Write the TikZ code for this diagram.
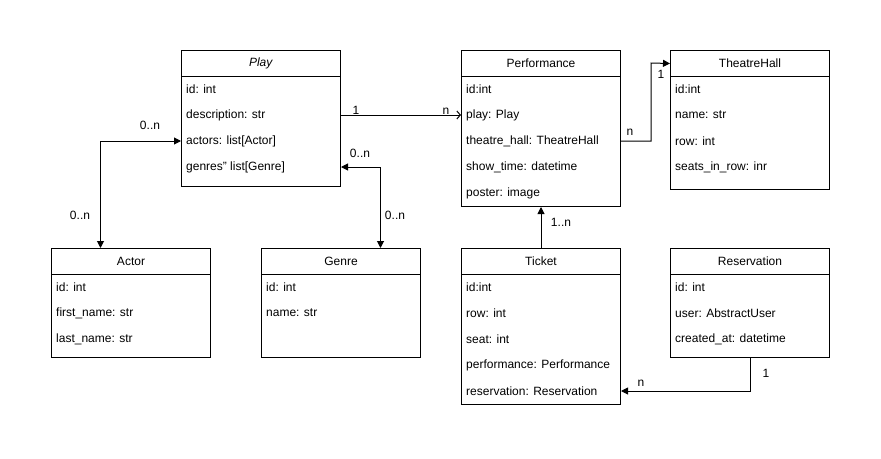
\documentclass[tikz,border=0pt]{standalone}
\usepackage{fontspec}
\setmainfont{Liberation Sans}
\usetikzlibrary{arrows.meta}
\tikzset{
  hdr/.style={draw, line width=1pt, minimum width=159pt, minimum height=26pt, inner sep=0pt, font=\fontsize{12}{14}\selectfont},
  body/.style={draw, line width=1pt, minimum width=159pt, inner sep=0pt},
  row/.style={anchor=west, inner sep=0pt, font=\fontsize{12}{14}\selectfont},
  lbl/.style={inner sep=0pt, font=\fontsize{12}{14}\selectfont},
  conn/.style={line width=1pt},
  tip/.style={-{Triangle[length=7pt,width=7pt]}},
  twotip/.style={{Triangle[length=7pt,width=7pt]}-{Triangle[length=7pt,width=7pt]}},
  opentip/.style={-{Straight Barb[length=3.5pt,width=8pt,line width=1pt]}},
}
\newcommand\umlbox[6]{%
  \node[hdr, anchor=north west] (#1) at (#2,#3) {#5};
  \node[body, anchor=north west, minimum height={#4-#3-26}] (#1b) at (#2,#3+26) {};
  \foreach [count=\i] \t in {#6} {
    \node[row] (#1r\i) at (#2+5,#3+39+26*\i-26) {\t};
  }
}
\begin{document}
\begin{tikzpicture}[x=1pt,y=-1pt]
\useasboundingbox (0,0) rectangle (881,458);
\umlbox{play}{181}{50}{186}{\textit{Play}}{id: int, description: str, actors: list[Actor], genres" list[Genre]}
\umlbox{perf}{461}{50}{206}{Performance}{id:int, play: Play, theatre\_hall: TheatreHall, show\_time: datetime, poster: image}
\umlbox{hall}{670}{50}{189}{TheatreHall}{id:int, name: str, row: int, seats\_in\_row: inr}
\umlbox{actor}{51}{248}{357}{Actor}{id: int, first\_name: str, last\_name: str}
\umlbox{genre}{261}{248}{357}{Genre}{id: int, name: str}
\umlbox{ticket}{461}{248}{404}{Ticket}{id:int, row: int, seat: int, performance: Performance, reservation: Reservation}
\umlbox{res}{670}{248}{357}{Reservation}{id: int, user: AbstractUser, created\_at: datetime}

% Play -> Performance
\draw[conn, opentip] (playr2 -| playb.east) -- (perfr2 -| perfb.west);
\node[lbl] (l1) at (356,110) {1};
\node[lbl] (l2) at (446,111) {n};

% Actor <-> Play
\draw[conn, twotip] ([xshift=-30.5pt]actor.north) |- (playr3 -| playb.west);
\node[lbl] (l3) at (150,125) {0..n};
\node[lbl] (l4) at (80,215) {0..n};

% Genre <-> Play
\draw[conn, twotip] ([xshift=39.5pt]genre.north) |- (playr4 -| playb.east);
\node[lbl] (l5) at (360,153) {0..n};
\node[lbl] (l6) at (395,215) {0..n};

% Performance -> TheatreHall
\coordinate (bend) at (651,63);
\draw[conn, tip] (perfr3 -| perfb.east) -| (bend) -- (hall.west);
\node[lbl] (l7) at (630,132) {n};
\node[lbl] (l8) at (661,74) {1};

% Ticket -> Performance
\draw[conn, tip] (ticket.north) -- (perfb.south);
\node[lbl] (l9) at (561,222) {1..n};

% Reservation -> Ticket
\draw[conn, tip] ([xshift=0.5pt]resb.south) |- (ticketr5 -| ticketb.east);
\node[lbl] (l10) at (766,373) {1};
\node[lbl] (l11) at (641,383) {n};
\end{tikzpicture}
\end{document}
